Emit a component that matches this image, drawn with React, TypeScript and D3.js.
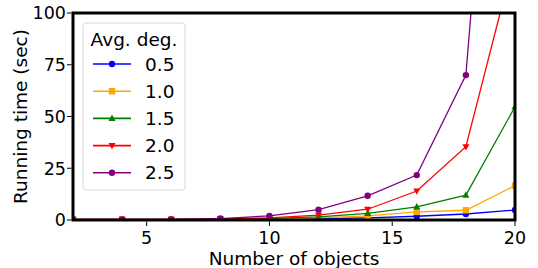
import * as d3 from "d3";

const xs = [2, 4, 6, 8, 10, 12, 14, 16, 18, 20];
const degs = ["0.5", "1.0", "1.5", "2.0", "2.5"];
const colors = ["#0000ff", "#ffa500", "#008000", "#ff0000", "#800080"];
const shapes = ["circle", "square", "triUp", "triDown", "circle"];
const times = [
  [0.2, 0.2, 0.2, 0.2, 0.3, 0.6, 1.0, 1.8, 2.9, 4.8],
  [0.2, 0.2, 0.2, 0.3, 0.5, 1.0, 2.0, 3.9, 4.7, 16.6],
  [0.2, 0.2, 0.2, 0.3, 0.8, 1.5, 3.2, 6.3, 12, 54.7],
  [0.3, 0.3, 0.3, 0.5, 1.0, 2.4, 5.2, 14, 35.4, 128],
  [0.3, 0.3, 0.3, 0.7, 2.0, 5.0, 11.7, 21.7, 70, 360],
];
const xTicks = [5, 10, 15, 20];
const yTicks = [0, 25, 50, 75, 100];

const W = 538;
const H = 268;
const m = { top: 13, right: 23, bottom: 48, left: 73 };
const font = "DejaVu Sans, sans-serif";

const Marker = ({ shape, x, y, color }: { shape: string; x: number; y: number; color: string }) => {
  const r = 3.2;
  if (shape === "square")
    return <rect x={x - r} y={y - r} width={2 * r} height={2 * r} fill={color} />;
  if (shape === "triUp")
    return <path d={`M${x},${y - r * 1.2}L${x + r * 1.1},${y + r * 0.8}L${x - r * 1.1},${y + r * 0.8}Z`} fill={color} />;
  if (shape === "triDown")
    return <path d={`M${x},${y + r * 1.2}L${x + r * 1.1},${y - r * 0.8}L${x - r * 1.1},${y - r * 0.8}Z`} fill={color} />;
  return <circle cx={x} cy={y} r={r} fill={color} />;
};

export default function App() {
  const iw = W - m.left - m.right;
  const ih = H - m.top - m.bottom;
  const x = d3.scaleLinear().domain([2, 20]).range([0, iw]);
  const y = d3.scaleLinear().domain([0, 100]).range([ih, 0]);
  const line = d3
    .line<number>()
    .x((_, i) => x(xs[i]))
    .y((d) => y(d));

  const lg = { x: 10, y: 10, w: 102, h: 167 };

  return (
    <svg width={W} height={H} style={{ position: "absolute", left: 0, top: 0 }} fontFamily={font}>
      <defs>
        <clipPath id="clip">
          <rect width={iw} height={ih} />
        </clipPath>
      </defs>
      <g transform={`translate(${m.left},${m.top})`}>
        <g clipPath="url(#clip)">
          {times.map((s, k) => (
            <g key={k}>
              <path d={line(s) || ""} fill="none" stroke={colors[k]} strokeWidth={1.3} />
              {s.map((v, i) => (
                <Marker key={i} shape={shapes[k]} x={x(xs[i])} y={y(v)} color={colors[k]} />
              ))}
            </g>
          ))}
        </g>
        <rect width={iw} height={ih} fill="none" stroke="#000" strokeWidth={3} />
        {xTicks.map((t) => (
          <g key={t} transform={`translate(${x(t)},${ih})`}>
            <line y1={1.5} y2={6} stroke="#000" strokeWidth={1} />
            <text y={24} textAnchor="middle" fontSize={17.5}>
              {t}
            </text>
          </g>
        ))}
        {yTicks.map((t) => (
          <g key={t} transform={`translate(0,${y(t)})`}>
            <line x1={-1.5} x2={-6} stroke="#000" strokeWidth={1} />
            <text x={-7} dy="0.36em" textAnchor="end" fontSize={17.5}>
              {t}
            </text>
          </g>
        ))}
        <text x={iw / 2} y={ih + 45} textAnchor="middle" fontSize={18.5}>
          Number of objects
        </text>
        <text transform={`translate(${-46},${ih / 2}) rotate(-90)`} textAnchor="middle" fontSize={18.5}>
          Running time (sec)
        </text>
        <g transform={`translate(${lg.x},${lg.y})`}>
          <rect width={lg.w} height={lg.h} rx={3} fill="#fff" fillOpacity={0.8} stroke="#d9d9d9" strokeWidth={1} />
          <text x={lg.w / 2} y={23} textAnchor="middle" fontSize={18.5}>
            Avg. deg.
          </text>
          {degs.map((d, k) => {
            const yy = 41 + k * 27.2;
            return (
              <g key={d}>
                <line x1={10} x2={48} y1={yy} y2={yy} stroke={colors[k]} strokeWidth={1.6} />
                <Marker shape={shapes[k]} x={29} y={yy} color={colors[k]} />
                <text x={62} y={yy} dy="0.36em" fontSize={18.5}>
                  {d}
                </text>
              </g>
            );
          })}
        </g>
      </g>
    </svg>
  );
}
